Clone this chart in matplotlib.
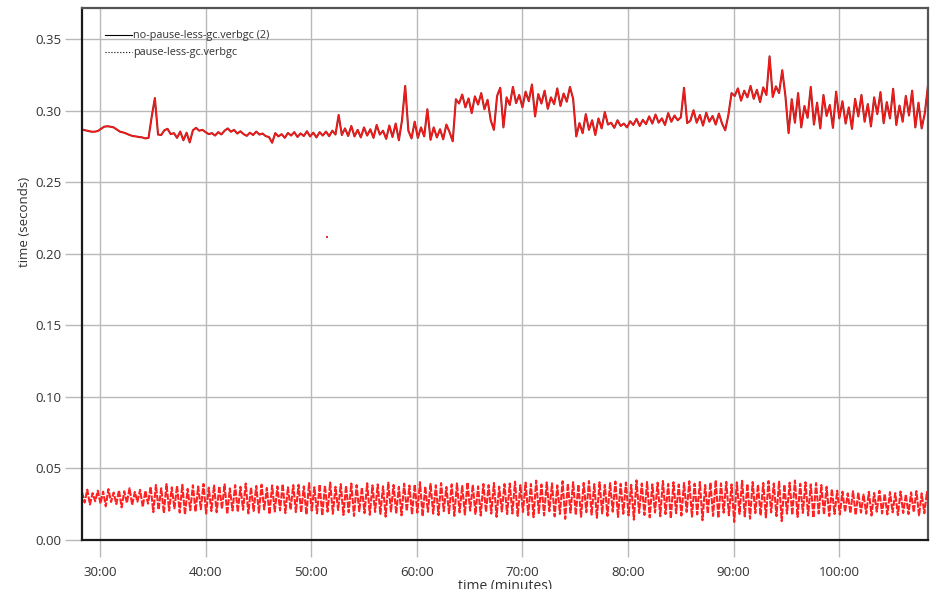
import numpy as np
import matplotlib
matplotlib.use('Agg')
import matplotlib.pyplot as plt
import matplotlib.patheffects as pe
from matplotlib.lines import Line2D

plt.rcParams['font.family'] = ['Open Sans', 'DejaVu Sans']

# no-pause-less-gc.verbgc (2): one value every 0.3 min from 28:18
top_start = 28.3
top_step = 0.3
top_seconds = [
    # 28.3 - 35.2
    .2870, .2865, .2860, .2855, .2855, .2860, .2875, .2890, .2893, .2890,
    .2885, .2870, .2855, .2850, .2842, .2832, .2825, .2822, .2818, .2815,
    .2808, .2812, .2960, .3090,
    # 35.5 - 40.0
    .2835, .2832, .2865, .2875, .2838, .2845, .2812, .2856, .2795, .2848,
    .2780, .2865, .2882, .2862, .2868, .2852,
    # 40.3 - 46.0
    .2838, .2845, .2828, .2852, .2836, .2862, .2878, .2855, .2868, .2842,
    .2858, .2838, .2826, .2848, .2832, .2856, .2835, .2842, .2824, .2818,
    # 46.3 - 52.3
    .2778, .2845, .2822, .2838, .2812, .2846, .2828, .2852, .2818, .2843,
    .2825, .2858, .2822, .2848, .2815, .2852, .2828, .2856, .2824, .2862,
    .2835,
    # 52.6 - 59.8
    .2972, .2832, .2878, .2825, .2895, .2822, .2868, .2815, .2885, .2828,
    .2872, .2812, .2902, .2835, .2862, .2805, .2898, .2818, .2912, .2795,
    .2935, .3175, .2862, .2808, .2925,
    # 60.1 - 63.7
    .2812, .2885, .2822, .3012, .2798, .2885, .2815, .2872, .2802, .2905,
    .2852, .2788, .3082,
    # 64.0 - 74.8
    .3052, .3115, .3025, .3088, .2985, .3102, .3045, .3125, .3012, .3078,
    .2935, .2868, .3105, .3162, .2885, .3095, .3042, .3168, .3055, .3112,
    .3025, .3135, .3068, .3185, .2962, .3118, .3052, .3142, .3015, .3095,
    .3048, .3158, .3035, .3122, .3065, .3168, .3085,
    # 75.1 - 89.8
    .2822, .2915, .2845, .2978, .2868, .2935, .2832, .2948, .2878, .2992,
    .2905, .2918, .2882, .2935, .2895, .2912, .2885, .2928, .2902, .2945,
    .2895, .2938, .2908, .2962, .2912, .2975, .2918, .2948, .2902, .2985,
    .2925, .2968, .2935, .2955, .3162, .2915, .2932, .3005, .2918, .2972,
    .2898, .2988, .2925, .2965, .2905, .2982, .2912, .2865, .2972, .3125,
    # 90.1 - 94.9
    .3105, .3158, .3072, .3142, .3095, .3175, .3085, .3148, .3062, .3165,
    .3112, .3382, .3098, .3172, .3125, .3285, .3105,
    # 95.2 - 108.4
    .2845, .3082, .2918, .3125, .2885, .3035, .2952, .3168, .2905, .3058,
    .2878, .3112, .2965, .3042, .2882, .3135, .2948, .3068, .2912, .3025,
    .2875, .3085, .2962, .3112, .2925, .3048, .2892, .3095, .2978, .3132,
    .2915, .3062, .2948, .3155, .2902, .3038, .2925, .3105, .2968, .3142,
    .2885, .3058, .2878, .2985, .3178,
]

# pause-less-gc.verbgc: high / low pairs every 0.5 min from 28:18
low_start = 28.3
low_step = 0.5
low_peaks = [
    .0335, .0352, .0328, .0345, .0338, .0356, .0332, .0348, .0341, .0362,
    .0336, .0351, .0344,
    .0372, .0385, .0362, .0391, .0368, .0379, .0386, .0358, .0383, .0374,
    .0392, .0366, .0381, .0376, .0389, .0361, .0384, .0372, .0395, .0368,
    .0378, .0387, .0364, .0382, .0375, .0391, .0369, .0384,
    .0386, .0375, .0398, .0369, .0388, .0381, .0402, .0372, .0391, .0379,
    .0395, .0384, .0368, .0397, .0382, .0389, .0376, .0401, .0385, .0372,
    .0394, .0381, .0388, .0405, .0374, .0392, .0383, .0398, .0371, .0389,
    .0396, .0378, .0403, .0386, .0375, .0392, .0384, .0399, .0373, .0391,
    .0395, .0408, .0384, .0401, .0392, .0415, .0388, .0403, .0396, .0382,
    .0411, .0394, .0405, .0387, .0399, .0412, .0391, .0404, .0385, .0398,
    .0409, .0393, .0402, .0386, .0417, .0395, .0406, .0389, .0401, .0413,
    .0392, .0404, .0388, .0399, .0411, .0394, .0406, .0385, .0402, .0418,
    .0396, .0407, .0389, .0403, .0414, .0392, .0405, .0387, .0399, .0412,
    .0395, .0408, .0386, .0401, .0416, .0393, .0404, .0389, .0398, .0385,
    .0372, .0356, .0345, .0338, .0326, .0341, .0332, .0318, .0337, .0329,
    .0344, .0322, .0335, .0328, .0339, .0319, .0333, .0342, .0326, .0336,
]
low_troughs = [
    .0262, .0248, .0271, .0255, .0236, .0266, .0251, .0228, .0259, .0245,
    .0268, .0232, .0254,
    .0195, .0212, .0188, .0205, .0221, .0192, .0178, .0208, .0198, .0215,
    .0185, .0202, .0194, .0218, .0182, .0206, .0196, .0211, .0186, .0203,
    .0191, .0214, .0181, .0199, .0207, .0188, .0212, .0195,
    .0192, .0178, .0205, .0186, .0171, .0198, .0183, .0209, .0175, .0194,
    .0168, .0201, .0188, .0176, .0196, .0182, .0163, .0199, .0185, .0172,
    .0203, .0179, .0191, .0166, .0197, .0184, .0174, .0201, .0187, .0169,
    .0193, .0178, .0205, .0182, .0171, .0196, .0185, .0162, .0199, .0181,
    .0185, .0168, .0196, .0174, .0159, .0188, .0172, .0201, .0165, .0182,
    .0148, .0191, .0176, .0162, .0194, .0178, .0155, .0186, .0169, .0198,
    .0161, .0183, .0172, .0142, .0189, .0175, .0158, .0192, .0166, .0181,
    .0151, .0187, .0171, .0196, .0163, .0179, .0138, .0185, .0168, .0154,
    .0191, .0173, .0126, .0182, .0165, .0149, .0188, .0171, .0158, .0193,
    .0167, .0132, .0184, .0176, .0161, .0189, .0172, .0156, .0185, .0178,
    .0168, .0182, .0178, .0196, .0188, .0175, .0192, .0184, .0171, .0198,
    .0186, .0179, .0193, .0174, .0189, .0181, .0195, .0172, .0187, .0183,
]

# single stray sample
stray_minute = [51.5]
stray_seconds = [0.212]

labels = ['no-pause-less-gc.verbgc (2)', 'pause-less-gc.verbgc']
x_ticks = [30, 40, 50, 60, 70, 80, 90, 100]
y_ticks = [0.00, 0.05, 0.10, 0.15, 0.20, 0.25, 0.30, 0.35]

top_minutes = top_start + top_step * np.arange(len(top_seconds))

n = len(low_peaks)
pair_t = low_start + low_step * np.arange(n)
low_minutes = np.column_stack([pair_t, pair_t + low_step / 2]).ravel()
low_seconds = np.column_stack([low_peaks, low_troughs]).ravel()

fig = plt.figure(figsize=(9.34, 5.89), dpi=100)
ax = fig.add_axes([82 / 934, 1 - 540 / 589, 846 / 934, 532 / 589])

ax.plot(low_minutes, low_seconds, color='#ff2222', lw=1.5, ls=(0, (3, 0.7)))
ax.plot(top_minutes, top_seconds, color='#ff1a1a', lw=0.8,
        path_effects=[pe.Stroke(linewidth=1.5, foreground='#a81c1c'), pe.Normal()])
ax.plot(stray_minute, stray_seconds, 's', color='#e03030', ms=1.5, mew=0)

ax.set_xlim(28.3, 108.4)
ax.set_ylim(0, 0.372)
ax.set_xticks(x_ticks)
ax.set_xticklabels(['%d:00' % m for m in x_ticks])
ax.set_yticks(y_ticks)
ax.set_yticklabels(['%.2f' % v for v in y_ticks])

ax.grid(True, color='#b9b9b9', lw=1.0)
ax.set_axisbelow(True)
ax.tick_params(axis='x', length=12, width=1, color='#b9b9b9', pad=7,
               labelsize=9.5, labelcolor='#333333')
ax.tick_params(axis='y', length=12, width=1, color='#b9b9b9', pad=3,
               labelsize=9.5, labelcolor='#333333')
for side in ['left', 'bottom']:
    ax.spines[side].set_color('#1a1a1a')
    ax.spines[side].set_linewidth(1.6)
for side in ['top', 'right']:
    ax.spines[side].set_color('#555555')
    ax.spines[side].set_linewidth(1.6)

handles = [Line2D([0], [0], color='black', lw=0.8),
           Line2D([0], [0], color='black', lw=0.8, ls=':')]
ax.legend(handles, labels, loc='upper left', bbox_to_anchor=(0.027, 0.958),
          frameon=False, fontsize=7.8, handlelength=2.5, handletextpad=0.1,
          labelspacing=0.55, borderpad=0, borderaxespad=0,
          labelcolor='#333333')

fig.text(25 / 934, 1 - 222 / 589, 'time (seconds)', rotation=90,
         ha='center', va='center', fontsize=9.5, color='#333333')
fig.text(505 / 934, 1 - 579 / 589, 'time (minutes)', ha='center', va='top',
         fontsize=10, color='#333333')

fig.savefig('out.png', dpi=100)
